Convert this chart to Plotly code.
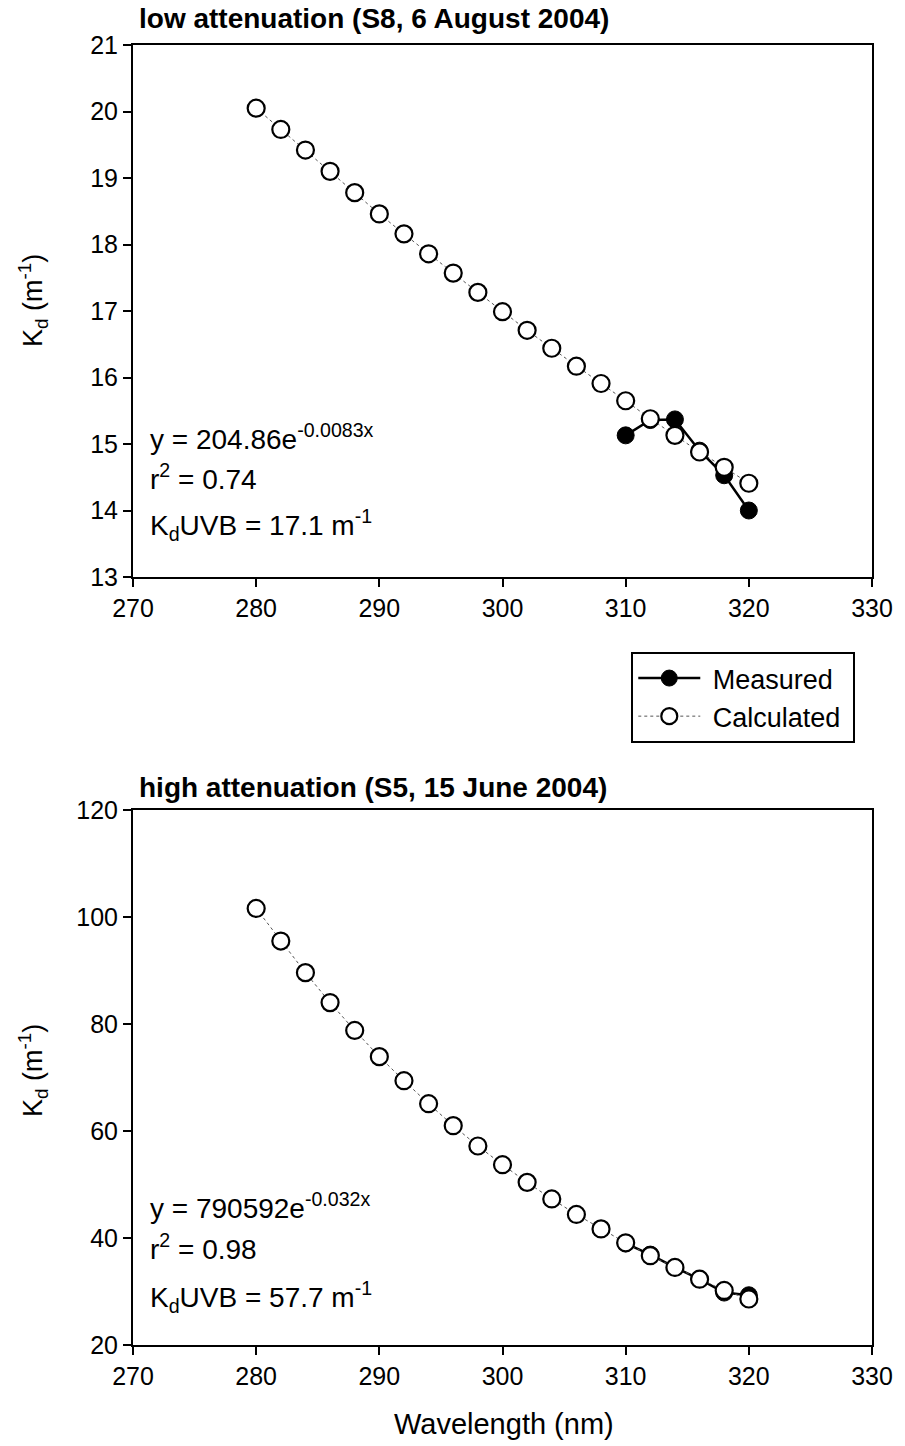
import plotly.graph_objects as go
from plotly.subplots import make_subplots

wl_calc = [280, 282, 284, 286, 288, 290, 292, 294, 296, 298, 300, 302, 304, 306, 308, 310, 312, 314, 316, 318, 320]
low_calc = [20.05, 19.73, 19.42, 19.10, 18.78, 18.46, 18.16, 17.86, 17.57, 17.28, 16.99, 16.71, 16.44, 16.17, 15.91, 15.65, 15.38, 15.13, 14.88, 14.65, 14.41]
wl_meas = [310, 312, 314, 316, 318, 320]
low_meas = [15.13, 15.36, 15.37, 14.90, 14.53, 14.00]
high_calc = [101.6, 95.5, 89.6, 84.0, 78.8, 73.9, 69.4, 65.1, 61.0, 57.2, 53.7, 50.4, 47.3, 44.4, 41.7, 39.1, 36.7, 34.5, 32.3, 30.2, 28.6]
high_meas = [39.0, 36.9, 34.5, 32.3, 29.8, 29.3]

FONT = "Liberation Sans, Arial, sans-serif"
TICK = 25
TXT = 27

fig = make_subplots(rows=2, cols=1)
top_dom = [(1345 - 577) / 1300, 1.0]
bot_dom = [0.0, (1345 - 810) / 1300]

for row, meas, calc in [(1, low_meas, low_calc), (2, high_meas, high_calc)]:
    fig.add_trace(go.Scatter(x=wl_meas, y=meas, mode="lines+markers", name="&nbsp;Measured",
                             line=dict(color="black", width=2.5),
                             marker=dict(symbol="circle", size=17, color="black", line=dict(color="black", width=1)),
                             showlegend=(row == 1)), row=row, col=1)
    fig.add_trace(go.Scatter(x=wl_calc, y=calc, mode="lines+markers", name="&nbsp;Calculated&nbsp;",
                             line=dict(color="#555555", width=1, dash="dot"),
                             marker=dict(symbol="circle", size=17, color="white", line=dict(color="black", width=2.2)),
                             showlegend=(row == 1)), row=row, col=1)

axis_common = dict(showgrid=False, zeroline=False, showline=True, linecolor="black", linewidth=2,
                   mirror=True, ticks="outside", ticklen=8, tickwidth=2, tickcolor="black",
                   tickfont=dict(family=FONT, size=TICK, color="black"))

fig.update_xaxes(range=[270, 330], dtick=10, **axis_common)
fig.update_yaxes(**axis_common)
fig.update_layout(
    xaxis=dict(domain=[0, 1]),
    yaxis=dict(domain=top_dom, range=[13, 21], dtick=1),
    xaxis2=dict(domain=[0, 1]),
    yaxis2=dict(domain=bot_dom, range=[20, 120], dtick=20),
)

fig.update_layout(
    width=905, height=1446,
    margin=dict(l=133, r=26, t=45, b=101),
    paper_bgcolor="white", plot_bgcolor="white",
    font=dict(family=FONT, color="black"),
    legend=dict(x=(636 - 133) / 746, y=1 - (652 - 45) / 1300, xanchor="left", yanchor="top",
                bordercolor="black", borderwidth=2, bgcolor="white",
                font=dict(family=FONT, size=TXT, color="black"),
                tracegroupgap=0, itemwidth=62),
)

ann = []
def add(text, x, y, size=TXT, bold=False, xanchor="left", angle=0):
    ann.append(dict(text=("<b>%s</b>" % text) if bold else text, x=x, y=y, xref="paper", yref="paper",
                    xanchor=xanchor, yanchor="middle", showarrow=False, textangle=angle,
                    font=dict(family=FONT, size=size, color="black")))

def py(pix):
    return 1 - (pix - 45) / 1300

def px(pix):
    return (pix - 133) / 746

add("low attenuation (S8, 6 August 2004)", px(137), py(19), size=28, bold=True)
add("high attenuation (S5, 15 June 2004)", px(137), py(787), size=28, bold=True)
add("y = 204.86e<sup>-0.0083x</sup>", px(148), py(437), size=28)
add("r<sup>2</sup> = 0.74", px(148), py(477), size=28)
add("K<sub>d</sub>UVB = 17.1 m<sup>-1</sup>", px(148), py(525), size=28)
add("y = 790592e<sup>-0.032x</sup>", px(148), py(1206), size=28)
add("r<sup>2</sup> = 0.98", px(148), py(1247), size=28)
add("K<sub>d</sub>UVB = 57.7 m<sup>-1</sup>", px(148), py(1297), size=28)
add("K<sub>d</sub> (m<sup>-1</sup>)", px(32), py(300), xanchor="center", angle=-90)
add("K<sub>d</sub> (m<sup>-1</sup>)", px(32), py(1070), xanchor="center", angle=-90)
add("Wavelength (nm)", px(508), py(1424), size=29, xanchor="center")
fig.update_layout(annotations=ann)

fig.write_html("out.html")
